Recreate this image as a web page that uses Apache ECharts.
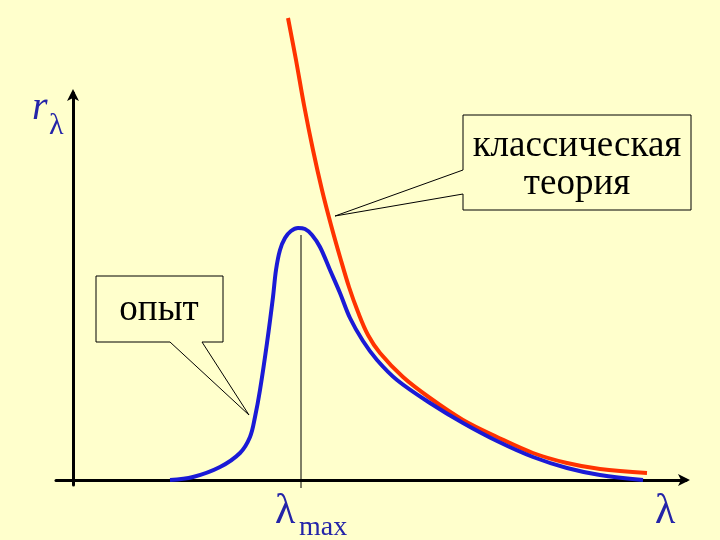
<!DOCTYPE html>
<html>
<head>
<meta charset="utf-8">
<script src="https://cdn.jsdelivr.net/npm/echarts@6/dist/echarts.min.js"></script>
<style>
  html, body { margin: 0; padding: 0; background: #FFFFCC; }
  #chart { width: 720px; height: 540px; }
</style>
</head>
<body>
<div id="chart"></div>
<script>
// Experimental curve (опыт): [λ, rλ] in arbitrary units
const experimentX = [97, 120, 147, 167, 177, 182, 187, 194, 200, 203, 207, 212, 218, 225, 232, 239, 247, 257, 267, 277, 290, 304, 324, 357, 390, 424, 460, 494, 527, 570];
const experimentY = [0, 3, 13, 27, 43, 63, 90, 137, 183, 210, 230, 242, 249, 252, 251, 245, 233, 210, 187, 162, 139, 120, 100, 77, 57, 39, 23, 12, 5, 0];
// Classical theory curve (классическая теория)
const classicX = [215, 223, 231, 240, 249, 258, 267, 276, 285, 295, 307, 330, 357, 390, 424, 460, 494, 527, 574];
const classicY = [462, 420, 375, 330, 290, 255, 223, 193, 168, 145, 127, 103, 82, 60, 43, 27, 17, 11, 7];
// position of the maximum
const lambdaMax = 228;
const lambdaMaxLineY = [-8, 245];

const labels = {
  yName: 'r',
  ySub: 'λ',
  xName: 'λ',
  maxMain: 'λ',
  maxSub: 'max',
  classic: ['классическая', 'теория'],
  experiment: 'опыт'
};

const zip = (xs, ys) => xs.map((x, i) => [x, ys[i]]);

const chart = echarts.init(document.getElementById('chart'), null, { renderer: 'canvas' });

const serif = 'Liberation Serif';
const labelBlue = '#2424a8';

function txt(x, y, text, size, color, extra) {
  return Object.assign({
    type: 'text', z: 11, x: x, y: y,
    style: Object.assign({ text: text, fontFamily: serif, fontSize: size, fill: color,
      align: 'left', verticalAlign: 'bottom' }, extra || {})
  });
}

chart.setOption({
  backgroundColor: '#FFFFCC',
  animation: false,
  grid: { left: 56, right: 34, top: 93, bottom: 55 },
  xAxis: {
    type: 'value', min: -17, max: 613,
    axisLine: { onZero: true, symbol: ['none', 'arrow'], symbolSize: [9, 12], symbolOffset: [0, 4],
      lineStyle: { color: '#000', width: 3 } },
    axisTick: { show: false }, axisLabel: { show: false }, splitLine: { show: false }
  },
  yAxis: {
    type: 'value', min: -5, max: 387,
    axisLine: { onZero: true, symbol: ['none', 'arrow'], symbolSize: [9, 12], symbolOffset: [0, 4],
      lineStyle: { color: '#000', width: 3 } },
    axisTick: { show: false }, axisLabel: { show: false }, splitLine: { show: false }
  },
  series: [
    {
      type: 'line', name: 'max', data: [[lambdaMax, lambdaMaxLineY[0]], [lambdaMax, lambdaMaxLineY[1]]],
      symbol: 'none', clip: false, lineStyle: { color: '#000', width: 1 }, z: 1
    },
    {
      type: 'line', name: labels.classic.join(' '), data: zip(classicX, classicY),
      smooth: 0.35, symbol: 'none', clip: false,
      lineStyle: { color: '#ff3300', width: 4 }, z: 3
    },
    {
      type: 'line', name: labels.experiment, data: zip(experimentX, experimentY),
      smooth: 0.35, symbol: 'none', clip: false,
      lineStyle: { color: '#1a1ad6', width: 4 }, z: 4
    }
  ],
  graphic: [
    // callout: классическая теория
    {
      type: 'polygon', z: 10,
      shape: { points: [[463, 115], [691, 115], [691, 210], [463, 210], [463, 194], [335, 216], [463, 170]] },
      style: { fill: '#FFFFCC', stroke: '#000', lineWidth: 1 }
    },
    txt(577, 146, labels.classic[0], 37, '#000', { align: 'center', verticalAlign: 'middle' }),
    txt(577, 184, labels.classic[1], 37, '#000', { align: 'center', verticalAlign: 'middle' }),
    // callout: опыт
    {
      type: 'polygon', z: 10,
      shape: { points: [[96, 276], [223, 276], [223, 342], [202, 342], [249, 415], [170, 342], [96, 342]] },
      style: { fill: '#FFFFCC', stroke: '#000', lineWidth: 1 }
    },
    txt(159, 310, labels.experiment, 37, '#000', { align: 'center', verticalAlign: 'middle' }),
    // axis labels
    txt(32, 128, labels.yName, 40, labelBlue, { fontStyle: 'italic' }),
    txt(49, 141, labels.ySub, 30, labelBlue),
    txt(275, 533, labels.maxMain, 42, labelBlue),
    txt(299, 542, labels.maxSub, 28, labelBlue),
    txt(655, 533, labels.xName, 42, labelBlue)
  ]
});
</script>
</body>
</html>
